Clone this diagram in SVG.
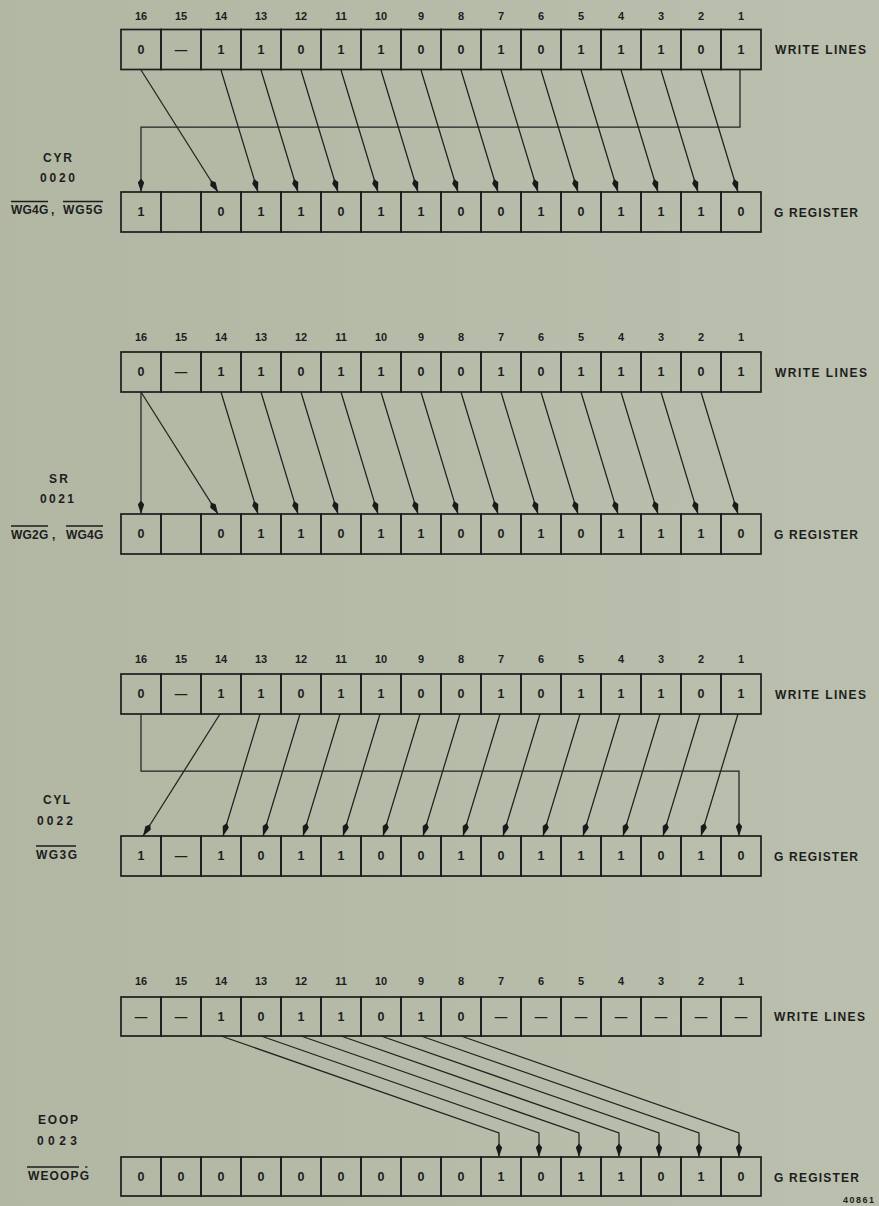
<svg xmlns="http://www.w3.org/2000/svg" width="879" height="1206" viewBox="0 0 879 1206">
<defs>
<linearGradient id="bg" x1="0" y1="0" x2="1" y2="0">
<stop offset="0" stop-color="#b2b7a4"/>
<stop offset="1" stop-color="#bbbfad"/>
</linearGradient>
<marker id="ah" markerUnits="userSpaceOnUse" markerWidth="14" markerHeight="7" refX="13.5" refY="3.5" orient="auto">
<path d="M0,3.5 L4,0.3 L13.5,3.5 L4,6.7 Z" fill="#1a1a1a"/>
</marker>
<style>
.bx{fill:none;stroke:#1d1d1d;stroke-width:1.7}
.v{font-family:"Liberation Sans",Arial,sans-serif;font-weight:bold;font-size:12.5px;text-anchor:middle;fill:#1d1d1d}
.n text{font-family:"Liberation Sans",Arial,sans-serif;font-weight:bold;font-size:11px;text-anchor:middle;fill:#1d1d1d}
.t{font-family:"Liberation Sans",Arial,sans-serif;font-weight:bold;font-size:12px;fill:#1d1d1d}
.m{font-family:"Liberation Sans",Arial,sans-serif;font-weight:bold;font-size:12px;text-anchor:middle;fill:#1d1d1d}
.ol{stroke:#1d1d1d;stroke-width:1.3;fill:none}
.cn{fill:none;stroke:#222;stroke-width:1.25;marker-end:url(#ah)}
</style>
</defs>
<rect width="879" height="1206" fill="url(#bg)"/>

<!-- ============ SECTION 1 : CYR ============ -->
<g class="n" id="s1-bits">
<text x="141" y="20">16</text><text x="181" y="20">15</text><text x="221" y="20">14</text><text x="261" y="20">13</text><text x="301" y="20">12</text><text x="341" y="20">11</text><text x="381" y="20">10</text><text x="421" y="20">9</text><text x="461" y="20">8</text><text x="501" y="20">7</text><text x="541" y="20">6</text><text x="581" y="20">5</text><text x="621" y="20">4</text><text x="661" y="20">3</text><text x="701" y="20">2</text><text x="741" y="20">1</text>
</g>
<g id="s1-write">
<g id="s1w16" transform="translate(121,29.5)"><rect class="bx" width="40" height="40"/><text class="v" x="20" y="24.3">0</text></g>
<g id="s1w15" transform="translate(161,29.5)"><rect class="bx" width="40" height="40"/><text class="v" x="20" y="24.3">—</text></g>
<g id="s1w14" transform="translate(201,29.5)"><rect class="bx" width="40" height="40"/><text class="v" x="20" y="24.3">1</text></g>
<g id="s1w13" transform="translate(241,29.5)"><rect class="bx" width="40" height="40"/><text class="v" x="20" y="24.3">1</text></g>
<g id="s1w12" transform="translate(281,29.5)"><rect class="bx" width="40" height="40"/><text class="v" x="20" y="24.3">0</text></g>
<g id="s1w11" transform="translate(321,29.5)"><rect class="bx" width="40" height="40"/><text class="v" x="20" y="24.3">1</text></g>
<g id="s1w10" transform="translate(361,29.5)"><rect class="bx" width="40" height="40"/><text class="v" x="20" y="24.3">1</text></g>
<g id="s1w9" transform="translate(401,29.5)"><rect class="bx" width="40" height="40"/><text class="v" x="20" y="24.3">0</text></g>
<g id="s1w8" transform="translate(441,29.5)"><rect class="bx" width="40" height="40"/><text class="v" x="20" y="24.3">0</text></g>
<g id="s1w7" transform="translate(481,29.5)"><rect class="bx" width="40" height="40"/><text class="v" x="20" y="24.3">1</text></g>
<g id="s1w6" transform="translate(521,29.5)"><rect class="bx" width="40" height="40"/><text class="v" x="20" y="24.3">0</text></g>
<g id="s1w5" transform="translate(561,29.5)"><rect class="bx" width="40" height="40"/><text class="v" x="20" y="24.3">1</text></g>
<g id="s1w4" transform="translate(601,29.5)"><rect class="bx" width="40" height="40"/><text class="v" x="20" y="24.3">1</text></g>
<g id="s1w3" transform="translate(641,29.5)"><rect class="bx" width="40" height="40"/><text class="v" x="20" y="24.3">1</text></g>
<g id="s1w2" transform="translate(681,29.5)"><rect class="bx" width="40" height="40"/><text class="v" x="20" y="24.3">0</text></g>
<g id="s1w1" transform="translate(721,29.5)"><rect class="bx" width="40" height="40"/><text class="v" x="20" y="24.3">1</text></g>
<text class="t" x="775" y="54" textLength="91">WRITE LINES</text>
</g>
<g id="s1-greg">
<g id="s1g16" transform="translate(121,192)"><rect class="bx" width="40" height="40"/><text class="v" x="20" y="24.3">1</text></g>
<g id="s1g15" transform="translate(161,192)"><rect class="bx" width="40" height="40"/></g>
<g id="s1g14" transform="translate(201,192)"><rect class="bx" width="40" height="40"/><text class="v" x="20" y="24.3">0</text></g>
<g id="s1g13" transform="translate(241,192)"><rect class="bx" width="40" height="40"/><text class="v" x="20" y="24.3">1</text></g>
<g id="s1g12" transform="translate(281,192)"><rect class="bx" width="40" height="40"/><text class="v" x="20" y="24.3">1</text></g>
<g id="s1g11" transform="translate(321,192)"><rect class="bx" width="40" height="40"/><text class="v" x="20" y="24.3">0</text></g>
<g id="s1g10" transform="translate(361,192)"><rect class="bx" width="40" height="40"/><text class="v" x="20" y="24.3">1</text></g>
<g id="s1g9" transform="translate(401,192)"><rect class="bx" width="40" height="40"/><text class="v" x="20" y="24.3">1</text></g>
<g id="s1g8" transform="translate(441,192)"><rect class="bx" width="40" height="40"/><text class="v" x="20" y="24.3">0</text></g>
<g id="s1g7" transform="translate(481,192)"><rect class="bx" width="40" height="40"/><text class="v" x="20" y="24.3">0</text></g>
<g id="s1g6" transform="translate(521,192)"><rect class="bx" width="40" height="40"/><text class="v" x="20" y="24.3">1</text></g>
<g id="s1g5" transform="translate(561,192)"><rect class="bx" width="40" height="40"/><text class="v" x="20" y="24.3">0</text></g>
<g id="s1g4" transform="translate(601,192)"><rect class="bx" width="40" height="40"/><text class="v" x="20" y="24.3">1</text></g>
<g id="s1g3" transform="translate(641,192)"><rect class="bx" width="40" height="40"/><text class="v" x="20" y="24.3">1</text></g>
<g id="s1g2" transform="translate(681,192)"><rect class="bx" width="40" height="40"/><text class="v" x="20" y="24.3">1</text></g>
<g id="s1g1" transform="translate(721,192)"><rect class="bx" width="40" height="40"/><text class="v" x="20" y="24.3">0</text></g>
<text class="t" x="774" y="216.5" textLength="84">G REGISTER</text>
</g>
<g id="s1-label">
<text class="m" x="57.5" y="162" textLength="29">CYR</text>
<text class="m" x="57.5" y="181.5" textLength="35">0020</text>
<text class="t" y="214"><tspan x="11" letter-spacing="0.2">WG4G</tspan><tspan x="51">,</tspan><tspan x="63" letter-spacing="1">WG5G</tspan></text>
<line class="ol" x1="11" y1="201.5" x2="48" y2="201.5"/>
<line class="ol" x1="63" y1="201.5" x2="103" y2="201.5"/>
</g>

<!-- ============ SECTION 2 : SR ============ -->
<g class="n" id="s2-bits">
<text x="141" y="341">16</text><text x="181" y="341">15</text><text x="221" y="341">14</text><text x="261" y="341">13</text><text x="301" y="341">12</text><text x="341" y="341">11</text><text x="381" y="341">10</text><text x="421" y="341">9</text><text x="461" y="341">8</text><text x="501" y="341">7</text><text x="541" y="341">6</text><text x="581" y="341">5</text><text x="621" y="341">4</text><text x="661" y="341">3</text><text x="701" y="341">2</text><text x="741" y="341">1</text>
</g>
<g id="s2-write">
<g id="s2w16" transform="translate(121,352)"><rect class="bx" width="40" height="40"/><text class="v" x="20" y="24.3">0</text></g>
<g id="s2w15" transform="translate(161,352)"><rect class="bx" width="40" height="40"/><text class="v" x="20" y="24.3">—</text></g>
<g id="s2w14" transform="translate(201,352)"><rect class="bx" width="40" height="40"/><text class="v" x="20" y="24.3">1</text></g>
<g id="s2w13" transform="translate(241,352)"><rect class="bx" width="40" height="40"/><text class="v" x="20" y="24.3">1</text></g>
<g id="s2w12" transform="translate(281,352)"><rect class="bx" width="40" height="40"/><text class="v" x="20" y="24.3">0</text></g>
<g id="s2w11" transform="translate(321,352)"><rect class="bx" width="40" height="40"/><text class="v" x="20" y="24.3">1</text></g>
<g id="s2w10" transform="translate(361,352)"><rect class="bx" width="40" height="40"/><text class="v" x="20" y="24.3">1</text></g>
<g id="s2w9" transform="translate(401,352)"><rect class="bx" width="40" height="40"/><text class="v" x="20" y="24.3">0</text></g>
<g id="s2w8" transform="translate(441,352)"><rect class="bx" width="40" height="40"/><text class="v" x="20" y="24.3">0</text></g>
<g id="s2w7" transform="translate(481,352)"><rect class="bx" width="40" height="40"/><text class="v" x="20" y="24.3">1</text></g>
<g id="s2w6" transform="translate(521,352)"><rect class="bx" width="40" height="40"/><text class="v" x="20" y="24.3">0</text></g>
<g id="s2w5" transform="translate(561,352)"><rect class="bx" width="40" height="40"/><text class="v" x="20" y="24.3">1</text></g>
<g id="s2w4" transform="translate(601,352)"><rect class="bx" width="40" height="40"/><text class="v" x="20" y="24.3">1</text></g>
<g id="s2w3" transform="translate(641,352)"><rect class="bx" width="40" height="40"/><text class="v" x="20" y="24.3">1</text></g>
<g id="s2w2" transform="translate(681,352)"><rect class="bx" width="40" height="40"/><text class="v" x="20" y="24.3">0</text></g>
<g id="s2w1" transform="translate(721,352)"><rect class="bx" width="40" height="40"/><text class="v" x="20" y="24.3">1</text></g>
<text class="t" x="775" y="376.5" textLength="92">WRITE LINES</text>
</g>
<g id="s2-greg">
<g id="s2g16" transform="translate(121,514)"><rect class="bx" width="40" height="40"/><text class="v" x="20" y="24.3">0</text></g>
<g id="s2g15" transform="translate(161,514)"><rect class="bx" width="40" height="40"/></g>
<g id="s2g14" transform="translate(201,514)"><rect class="bx" width="40" height="40"/><text class="v" x="20" y="24.3">0</text></g>
<g id="s2g13" transform="translate(241,514)"><rect class="bx" width="40" height="40"/><text class="v" x="20" y="24.3">1</text></g>
<g id="s2g12" transform="translate(281,514)"><rect class="bx" width="40" height="40"/><text class="v" x="20" y="24.3">1</text></g>
<g id="s2g11" transform="translate(321,514)"><rect class="bx" width="40" height="40"/><text class="v" x="20" y="24.3">0</text></g>
<g id="s2g10" transform="translate(361,514)"><rect class="bx" width="40" height="40"/><text class="v" x="20" y="24.3">1</text></g>
<g id="s2g9" transform="translate(401,514)"><rect class="bx" width="40" height="40"/><text class="v" x="20" y="24.3">1</text></g>
<g id="s2g8" transform="translate(441,514)"><rect class="bx" width="40" height="40"/><text class="v" x="20" y="24.3">0</text></g>
<g id="s2g7" transform="translate(481,514)"><rect class="bx" width="40" height="40"/><text class="v" x="20" y="24.3">0</text></g>
<g id="s2g6" transform="translate(521,514)"><rect class="bx" width="40" height="40"/><text class="v" x="20" y="24.3">1</text></g>
<g id="s2g5" transform="translate(561,514)"><rect class="bx" width="40" height="40"/><text class="v" x="20" y="24.3">0</text></g>
<g id="s2g4" transform="translate(601,514)"><rect class="bx" width="40" height="40"/><text class="v" x="20" y="24.3">1</text></g>
<g id="s2g3" transform="translate(641,514)"><rect class="bx" width="40" height="40"/><text class="v" x="20" y="24.3">1</text></g>
<g id="s2g2" transform="translate(681,514)"><rect class="bx" width="40" height="40"/><text class="v" x="20" y="24.3">1</text></g>
<g id="s2g1" transform="translate(721,514)"><rect class="bx" width="40" height="40"/><text class="v" x="20" y="24.3">0</text></g>
<text class="t" x="774" y="538.5" textLength="84">G REGISTER</text>
</g>
<g id="s2-label">
<text class="m" x="58.5" y="483" textLength="19">SR</text>
<text class="m" x="57" y="503" textLength="34">0021</text>
<text class="t" y="539"><tspan x="11" letter-spacing="0.2">WG2G</tspan><tspan x="52">,</tspan><tspan x="66" letter-spacing="0.2">WG4G</tspan></text>
<line class="ol" x1="11" y1="526" x2="48" y2="526"/>
<line class="ol" x1="66" y1="526" x2="103" y2="526"/>
</g>

<!-- ============ SECTION 3 : CYL ============ -->
<g class="n" id="s3-bits">
<text x="141" y="663">16</text><text x="181" y="663">15</text><text x="221" y="663">14</text><text x="261" y="663">13</text><text x="301" y="663">12</text><text x="341" y="663">11</text><text x="381" y="663">10</text><text x="421" y="663">9</text><text x="461" y="663">8</text><text x="501" y="663">7</text><text x="541" y="663">6</text><text x="581" y="663">5</text><text x="621" y="663">4</text><text x="661" y="663">3</text><text x="701" y="663">2</text><text x="741" y="663">1</text>
</g>
<g id="s3-write">
<g id="s3w16" transform="translate(121,674)"><rect class="bx" width="40" height="40"/><text class="v" x="20" y="24.3">0</text></g>
<g id="s3w15" transform="translate(161,674)"><rect class="bx" width="40" height="40"/><text class="v" x="20" y="24.3">—</text></g>
<g id="s3w14" transform="translate(201,674)"><rect class="bx" width="40" height="40"/><text class="v" x="20" y="24.3">1</text></g>
<g id="s3w13" transform="translate(241,674)"><rect class="bx" width="40" height="40"/><text class="v" x="20" y="24.3">1</text></g>
<g id="s3w12" transform="translate(281,674)"><rect class="bx" width="40" height="40"/><text class="v" x="20" y="24.3">0</text></g>
<g id="s3w11" transform="translate(321,674)"><rect class="bx" width="40" height="40"/><text class="v" x="20" y="24.3">1</text></g>
<g id="s3w10" transform="translate(361,674)"><rect class="bx" width="40" height="40"/><text class="v" x="20" y="24.3">1</text></g>
<g id="s3w9" transform="translate(401,674)"><rect class="bx" width="40" height="40"/><text class="v" x="20" y="24.3">0</text></g>
<g id="s3w8" transform="translate(441,674)"><rect class="bx" width="40" height="40"/><text class="v" x="20" y="24.3">0</text></g>
<g id="s3w7" transform="translate(481,674)"><rect class="bx" width="40" height="40"/><text class="v" x="20" y="24.3">1</text></g>
<g id="s3w6" transform="translate(521,674)"><rect class="bx" width="40" height="40"/><text class="v" x="20" y="24.3">0</text></g>
<g id="s3w5" transform="translate(561,674)"><rect class="bx" width="40" height="40"/><text class="v" x="20" y="24.3">1</text></g>
<g id="s3w4" transform="translate(601,674)"><rect class="bx" width="40" height="40"/><text class="v" x="20" y="24.3">1</text></g>
<g id="s3w3" transform="translate(641,674)"><rect class="bx" width="40" height="40"/><text class="v" x="20" y="24.3">1</text></g>
<g id="s3w2" transform="translate(681,674)"><rect class="bx" width="40" height="40"/><text class="v" x="20" y="24.3">0</text></g>
<g id="s3w1" transform="translate(721,674)"><rect class="bx" width="40" height="40"/><text class="v" x="20" y="24.3">1</text></g>
<text class="t" x="775" y="698.5" textLength="91">WRITE LINES</text>
</g>
<g id="s3-greg">
<g id="s3g16" transform="translate(121,836)"><rect class="bx" width="40" height="40"/><text class="v" x="20" y="24.3">1</text></g>
<g id="s3g15" transform="translate(161,836)"><rect class="bx" width="40" height="40"/><text class="v" x="20" y="24.3">—</text></g>
<g id="s3g14" transform="translate(201,836)"><rect class="bx" width="40" height="40"/><text class="v" x="20" y="24.3">1</text></g>
<g id="s3g13" transform="translate(241,836)"><rect class="bx" width="40" height="40"/><text class="v" x="20" y="24.3">0</text></g>
<g id="s3g12" transform="translate(281,836)"><rect class="bx" width="40" height="40"/><text class="v" x="20" y="24.3">1</text></g>
<g id="s3g11" transform="translate(321,836)"><rect class="bx" width="40" height="40"/><text class="v" x="20" y="24.3">1</text></g>
<g id="s3g10" transform="translate(361,836)"><rect class="bx" width="40" height="40"/><text class="v" x="20" y="24.3">0</text></g>
<g id="s3g9" transform="translate(401,836)"><rect class="bx" width="40" height="40"/><text class="v" x="20" y="24.3">0</text></g>
<g id="s3g8" transform="translate(441,836)"><rect class="bx" width="40" height="40"/><text class="v" x="20" y="24.3">1</text></g>
<g id="s3g7" transform="translate(481,836)"><rect class="bx" width="40" height="40"/><text class="v" x="20" y="24.3">0</text></g>
<g id="s3g6" transform="translate(521,836)"><rect class="bx" width="40" height="40"/><text class="v" x="20" y="24.3">1</text></g>
<g id="s3g5" transform="translate(561,836)"><rect class="bx" width="40" height="40"/><text class="v" x="20" y="24.3">1</text></g>
<g id="s3g4" transform="translate(601,836)"><rect class="bx" width="40" height="40"/><text class="v" x="20" y="24.3">1</text></g>
<g id="s3g3" transform="translate(641,836)"><rect class="bx" width="40" height="40"/><text class="v" x="20" y="24.3">0</text></g>
<g id="s3g2" transform="translate(681,836)"><rect class="bx" width="40" height="40"/><text class="v" x="20" y="24.3">1</text></g>
<g id="s3g1" transform="translate(721,836)"><rect class="bx" width="40" height="40"/><text class="v" x="20" y="24.3">0</text></g>
<text class="t" x="774" y="860.5" textLength="84">G REGISTER</text>
</g>
<g id="s3-label">
<text class="m" x="56.5" y="804" textLength="27">CYL</text>
<text class="m" x="55" y="825" textLength="36">0022</text>
<text class="t" x="36" y="859" textLength="41">WG3G</text>
<line class="ol" x1="36" y1="846" x2="76" y2="846"/>
</g>

<!-- ============ SECTION 4 : EOOP ============ -->
<g class="n" id="s4-bits">
<text x="141" y="985">16</text><text x="181" y="985">15</text><text x="221" y="985">14</text><text x="261" y="985">13</text><text x="301" y="985">12</text><text x="341" y="985">11</text><text x="381" y="985">10</text><text x="421" y="985">9</text><text x="461" y="985">8</text><text x="501" y="985">7</text><text x="541" y="985">6</text><text x="581" y="985">5</text><text x="621" y="985">4</text><text x="661" y="985">3</text><text x="701" y="985">2</text><text x="741" y="985">1</text>
</g>
<g id="s4-write">
<g id="s4w16" transform="translate(121,997)"><rect class="bx" width="40" height="39"/><text class="v" x="20" y="23.8">—</text></g>
<g id="s4w15" transform="translate(161,997)"><rect class="bx" width="40" height="39"/><text class="v" x="20" y="23.8">—</text></g>
<g id="s4w14" transform="translate(201,997)"><rect class="bx" width="40" height="39"/><text class="v" x="20" y="23.8">1</text></g>
<g id="s4w13" transform="translate(241,997)"><rect class="bx" width="40" height="39"/><text class="v" x="20" y="23.8">0</text></g>
<g id="s4w12" transform="translate(281,997)"><rect class="bx" width="40" height="39"/><text class="v" x="20" y="23.8">1</text></g>
<g id="s4w11" transform="translate(321,997)"><rect class="bx" width="40" height="39"/><text class="v" x="20" y="23.8">1</text></g>
<g id="s4w10" transform="translate(361,997)"><rect class="bx" width="40" height="39"/><text class="v" x="20" y="23.8">0</text></g>
<g id="s4w9" transform="translate(401,997)"><rect class="bx" width="40" height="39"/><text class="v" x="20" y="23.8">1</text></g>
<g id="s4w8" transform="translate(441,997)"><rect class="bx" width="40" height="39"/><text class="v" x="20" y="23.8">0</text></g>
<g id="s4w7" transform="translate(481,997)"><rect class="bx" width="40" height="39"/><text class="v" x="20" y="23.8">—</text></g>
<g id="s4w6" transform="translate(521,997)"><rect class="bx" width="40" height="39"/><text class="v" x="20" y="23.8">—</text></g>
<g id="s4w5" transform="translate(561,997)"><rect class="bx" width="40" height="39"/><text class="v" x="20" y="23.8">—</text></g>
<g id="s4w4" transform="translate(601,997)"><rect class="bx" width="40" height="39"/><text class="v" x="20" y="23.8">—</text></g>
<g id="s4w3" transform="translate(641,997)"><rect class="bx" width="40" height="39"/><text class="v" x="20" y="23.8">—</text></g>
<g id="s4w2" transform="translate(681,997)"><rect class="bx" width="40" height="39"/><text class="v" x="20" y="23.8">—</text></g>
<g id="s4w1" transform="translate(721,997)"><rect class="bx" width="40" height="39"/><text class="v" x="20" y="23.8">—</text></g>
<text class="t" x="774" y="1021" textLength="91">WRITE LINES</text>
</g>
<g id="s4-greg">
<g id="s4g16" transform="translate(121,1157)"><rect class="bx" width="40" height="39"/><text class="v" x="20" y="23.8">0</text></g>
<g id="s4g15" transform="translate(161,1157)"><rect class="bx" width="40" height="39"/><text class="v" x="20" y="23.8">0</text></g>
<g id="s4g14" transform="translate(201,1157)"><rect class="bx" width="40" height="39"/><text class="v" x="20" y="23.8">0</text></g>
<g id="s4g13" transform="translate(241,1157)"><rect class="bx" width="40" height="39"/><text class="v" x="20" y="23.8">0</text></g>
<g id="s4g12" transform="translate(281,1157)"><rect class="bx" width="40" height="39"/><text class="v" x="20" y="23.8">0</text></g>
<g id="s4g11" transform="translate(321,1157)"><rect class="bx" width="40" height="39"/><text class="v" x="20" y="23.8">0</text></g>
<g id="s4g10" transform="translate(361,1157)"><rect class="bx" width="40" height="39"/><text class="v" x="20" y="23.8">0</text></g>
<g id="s4g9" transform="translate(401,1157)"><rect class="bx" width="40" height="39"/><text class="v" x="20" y="23.8">0</text></g>
<g id="s4g8" transform="translate(441,1157)"><rect class="bx" width="40" height="39"/><text class="v" x="20" y="23.8">0</text></g>
<g id="s4g7" transform="translate(481,1157)"><rect class="bx" width="40" height="39"/><text class="v" x="20" y="23.8">1</text></g>
<g id="s4g6" transform="translate(521,1157)"><rect class="bx" width="40" height="39"/><text class="v" x="20" y="23.8">0</text></g>
<g id="s4g5" transform="translate(561,1157)"><rect class="bx" width="40" height="39"/><text class="v" x="20" y="23.8">1</text></g>
<g id="s4g4" transform="translate(601,1157)"><rect class="bx" width="40" height="39"/><text class="v" x="20" y="23.8">1</text></g>
<g id="s4g3" transform="translate(641,1157)"><rect class="bx" width="40" height="39"/><text class="v" x="20" y="23.8">0</text></g>
<g id="s4g2" transform="translate(681,1157)"><rect class="bx" width="40" height="39"/><text class="v" x="20" y="23.8">1</text></g>
<g id="s4g1" transform="translate(721,1157)"><rect class="bx" width="40" height="39"/><text class="v" x="20" y="23.8">0</text></g>
<text class="t" x="774" y="1181.5" textLength="85">G REGISTER</text>
</g>
<g id="s4-label">
<text class="m" x="58" y="1124" textLength="40">EOOP</text>
<text class="m" x="57" y="1145" textLength="40">0023</text>
<text class="t" x="28" y="1180" textLength="61">WEOOPG</text>
<line class="ol" x1="27" y1="1167" x2="79" y2="1167"/>
<line class="ol" x1="85" y1="1167" x2="87.5" y2="1167"/>
</g>
<text id="fig-number" x="874" y="1203" textLength="31" text-anchor="end" font-family="'Liberation Sans', Arial, sans-serif" font-weight="bold" font-size="9" fill="#1d1d1d">40861</text>

<!-- ============ CONNECTORS ============ -->
<g id="connectors">
<!-- CYR -->
<path class="cn" d="M141,70 L218,192"/>
<path class="cn" d="M221,70 L258,192"/>
<path class="cn" d="M261,70 L298,192"/>
<path class="cn" d="M301,70 L338,192"/>
<path class="cn" d="M341,70 L378,192"/>
<path class="cn" d="M381,70 L418,192"/>
<path class="cn" d="M421,70 L458,192"/>
<path class="cn" d="M461,70 L498,192"/>
<path class="cn" d="M501,70 L538,192"/>
<path class="cn" d="M541,70 L578,192"/>
<path class="cn" d="M581,70 L618,192"/>
<path class="cn" d="M621,70 L658,192"/>
<path class="cn" d="M661,70 L698,192"/>
<path class="cn" d="M701,70 L738,192"/>
<path class="cn" d="M740,70 V127 H141 V192"/>
<!-- SR -->
<path class="cn" d="M141,392 V514"/>
<path class="cn" d="M141,392 L218,514"/>
<path class="cn" d="M221,392 L258,514"/>
<path class="cn" d="M261,392 L298,514"/>
<path class="cn" d="M301,392 L338,514"/>
<path class="cn" d="M341,392 L378,514"/>
<path class="cn" d="M381,392 L418,514"/>
<path class="cn" d="M421,392 L458,514"/>
<path class="cn" d="M461,392 L498,514"/>
<path class="cn" d="M501,392 L538,514"/>
<path class="cn" d="M541,392 L578,514"/>
<path class="cn" d="M581,392 L618,514"/>
<path class="cn" d="M621,392 L658,514"/>
<path class="cn" d="M661,392 L698,514"/>
<path class="cn" d="M701,392 L738,514"/>
<!-- CYL -->
<path class="cn" d="M220,714 L143,836"/>
<path class="cn" d="M260,714 L223,836"/>
<path class="cn" d="M300,714 L263,836"/>
<path class="cn" d="M340,714 L303,836"/>
<path class="cn" d="M380,714 L343,836"/>
<path class="cn" d="M420,714 L383,836"/>
<path class="cn" d="M460,714 L423,836"/>
<path class="cn" d="M500,714 L463,836"/>
<path class="cn" d="M540,714 L503,836"/>
<path class="cn" d="M580,714 L543,836"/>
<path class="cn" d="M620,714 L583,836"/>
<path class="cn" d="M660,714 L623,836"/>
<path class="cn" d="M700,714 L663,836"/>
<path class="cn" d="M738,714 L701,836"/>
<path class="cn" d="M141,714 V771 H739 V836"/>
<!-- EOOP -->
<path class="cn" d="M221,1036 L499,1133 V1157"/>
<path class="cn" d="M261,1036 L539,1133 V1157"/>
<path class="cn" d="M301,1036 L579,1133 V1157"/>
<path class="cn" d="M341,1036 L619,1133 V1157"/>
<path class="cn" d="M381,1036 L659,1133 V1157"/>
<path class="cn" d="M421,1036 L699,1133 V1157"/>
<path class="cn" d="M461,1036 L739,1133 V1157"/>
</g>
</svg>
